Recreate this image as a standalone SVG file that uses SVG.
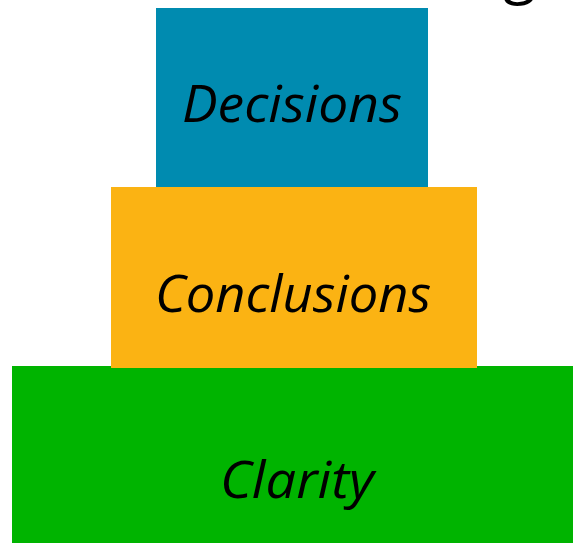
<svg xmlns="http://www.w3.org/2000/svg" width="573" height="543" viewBox="0 0 573 543">
<style>
.lbl{font-family:"Open Sans","Noto Sans","Liberation Sans",sans-serif;font-style:italic;font-size:52px;fill:#000;text-anchor:middle}
.title{font-family:"Open Sans","Noto Sans","Liberation Sans",sans-serif;font-size:60px;fill:#000}
</style>
<rect width="573" height="543" fill="#fff"/>
<text class="title" x="503" y="-8">g</text>
<g id="clarity">
<rect x="12" y="366" width="561" height="177" fill="#00B400"/>
<text class="lbl" x="297" y="498" textLength="154" lengthAdjust="spacingAndGlyphs">Clarity</text>
</g>
<g id="conclusions">
<rect x="111" y="187" width="366" height="181" fill="#FBB313"/>
<text class="lbl" x="293" y="312" textLength="276" lengthAdjust="spacingAndGlyphs">Conclusions</text>
</g>
<g id="decisions">
<rect x="156" y="8" width="272" height="179" fill="#008BB0"/>
<text class="lbl" x="292" y="122" textLength="220" lengthAdjust="spacingAndGlyphs">Decisions</text>
</g>
<g id="connectors"/>
</svg>
